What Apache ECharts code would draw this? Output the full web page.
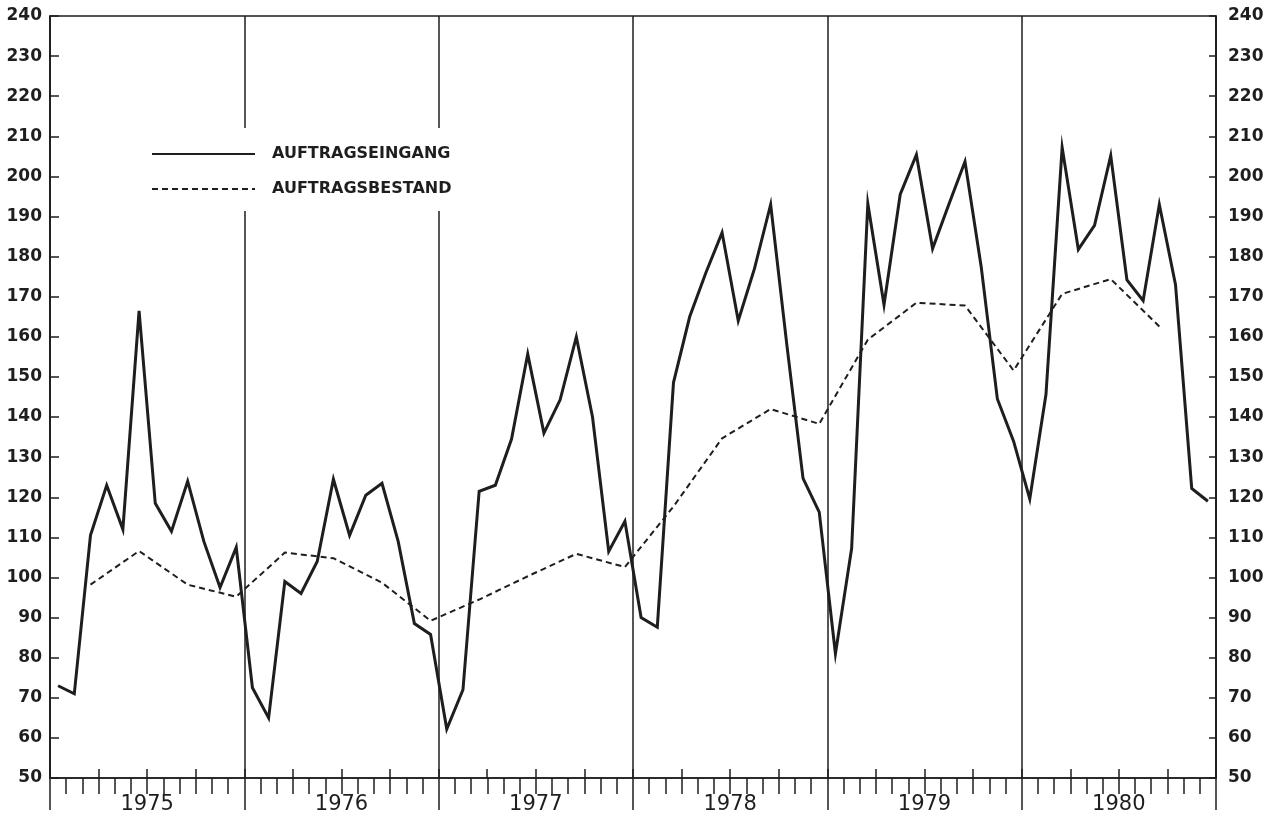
<!DOCTYPE html>
<html>
<head>
<meta charset="utf-8">
<script src="https://cdn.jsdelivr.net/npm/echarts@6/dist/echarts.min.js"></script>
<style>
html,body{margin:0;padding:0;background:#fff;}
#chart{width:1279px;height:829px;}
</style>
</head>
<body>
<div id="chart"></div>
<script>
// ---- data ----
const years = ['1975', '1976', '1977', '1978', '1979', '1980'];
const quarters = ['Q1', 'Q2', 'Q3', 'Q4'];
const monthNames = ['01','02','03','04','05','06','07','08','09','10','11','12'];

// Auftragseingang (monthly)
const eingang1975 = [73, 71, 110.5, 123, 112, 166.5, 118.5, 111.5, 124, 109, 97.5, 107.5];
const eingang1976 = [72.5, 65, 99, 96, 104, 124.5, 110.5, 120.5, 123.5, 109, 88.5, 85.8];
const eingang1977 = [62.2, 72, 121.5, 123, 134.5, 155.7, 136, 144.3, 160, 140, 106.5, 114];
const eingang1978 = [90, 87.6, 148.6, 165, 176, 186, 164, 177, 193, 158, 124.7, 116.3];
const eingang1979 = [81, 107.2, 193.2, 168, 195.5, 205.4, 182, 193, 203.7, 177.5, 144.5, 134];
const eingang1980 = [119.6, 145.6, 207.2, 181.8, 187.8, 205.2, 174.2, 169, 193, 173, 122.2, 119];

// Auftragsbestand (quarter-end values: Mar, Jun, Sep, Dec)
const bestand1975 = [98.2, 106.6, 98.2, 95.2];
const bestand1976 = [106.2, 104.8, 98.7, 89.2];
const bestand1977 = [94.5, 100.3, 105.9, 102.6];
const bestand1978 = [117.7, 134.7, 142, 138.3];
const bestand1979 = [159.3, 168.5, 167.8, 151.6];
const bestand1980 = [170.7, 174.4, 162.6];

const yTicks = [50, 240, 10]; // min, max, step

// ---- build tables ----
const months = [];
years.forEach(y => monthNames.forEach(m => months.push(y + '-' + m)));
const quarterCats = [];
years.forEach(y => quarters.forEach(q => quarterCats.push(y + '-' + q)));

const eingang = [].concat(eingang1975, eingang1976, eingang1977, eingang1978, eingang1979, eingang1980);
const bestandQ = [].concat(bestand1975, bestand1976, bestand1977, bestand1978, bestand1979, bestand1980);
const bestand = months.map(() => null);
bestandQ.forEach((v, i) => { bestand[i * 3 + 2] = v; });

const ink = '#1e1e1e';
const font = 'DejaVu Sans';

const chart = echarts.init(document.getElementById('chart'), null, {renderer: 'canvas'});
chart.setOption({
  backgroundColor: '#ffffff',
  animation: false,
  grid: {
    left: 50, right: 63, top: 16, bottom: 51,
    show: true, borderColor: ink, borderWidth: 1.5, backgroundColor: 'transparent',
    containLabel: false
  },
  legend: {
    orient: 'vertical',
    left: 141, top: 128,
    backgroundColor: '#ffffff',
    padding: [18, 8, 14, 10],
    itemWidth: 103, itemHeight: 14, itemGap: 19,
    itemStyle: {opacity: 0},
    textStyle: {fontFamily: font, fontWeight: 'bold', fontSize: 16, color: ink, padding: [0, 0, 0, 12]},
    data: [
      {name: 'AUFTRAGSEINGANG'},
      {name: 'AUFTRAGSBESTAND'}
    ]
  },
  xAxis: [
    {
      type: 'category', data: months, boundaryGap: true, position: 'bottom',
      axisLine: {show: true, lineStyle: {color: ink, width: 1.5}},
      axisTick: {show: true, interval: 0, length: 16, inside: false, lineStyle: {color: ink, width: 1.5}},
      axisLabel: {show: false}, splitLine: {show: false}
    },
    {
      type: 'category', data: quarterCats, boundaryGap: true, position: 'bottom',
      axisLine: {show: false},
      axisTick: {show: true, interval: 0, length: 9, inside: true, lineStyle: {color: ink, width: 1.5}},
      axisLabel: {show: false}, splitLine: {show: false}
    },
    {
      type: 'category', data: years, boundaryGap: true, position: 'bottom',
      axisLine: {show: false},
      axisTick: {show: true, interval: 0, length: 32, lineStyle: {color: ink, width: 1.5}},
      axisLabel: {show: true, interval: 0, margin: 16, fontFamily: font, fontSize: 21, color: ink},
      splitLine: {show: true, interval: 0, lineStyle: {color: ink, width: 1.5}}
    }
  ],
  yAxis: [
    {
      type: 'value', position: 'left', min: yTicks[0], max: yTicks[1], interval: yTicks[2],
      axisLine: {show: true, lineStyle: {color: ink, width: 1.5}},
      axisTick: {show: true, inside: true, length: 9, lineStyle: {color: ink, width: 1.5}},
      axisLabel: {margin: 8, fontFamily: font, fontSize: 17, fontWeight: 'bold', color: ink},
      splitLine: {show: false}
    },
    {
      type: 'value', position: 'right', min: yTicks[0], max: yTicks[1], interval: yTicks[2],
      axisLine: {show: true, lineStyle: {color: ink, width: 1.5}},
      axisTick: {show: true, inside: true, length: 7, lineStyle: {color: ink, width: 1.5}},
      axisLabel: {margin: 12, fontFamily: font, fontSize: 17, fontWeight: 'bold', color: ink},
      splitLine: {show: false}
    }
  ],
  series: [
    {
      name: 'AUFTRAGSEINGANG', type: 'line', xAxisIndex: 0, yAxisIndex: 0,
      data: eingang, showSymbol: false, symbol: 'none',
      lineStyle: {color: ink, width: 3, join: 'miter'},
      itemStyle: {color: ink},
      z: 5
    },
    {
      name: 'AUFTRAGSBESTAND', type: 'line', xAxisIndex: 0, yAxisIndex: 0,
      data: bestand, connectNulls: true, showSymbol: false, symbol: 'none',
      lineStyle: {color: ink, width: 2, type: [6, 4]},
      itemStyle: {color: ink},
      z: 4
    }
  ]
});
</script>
</body>
</html>
